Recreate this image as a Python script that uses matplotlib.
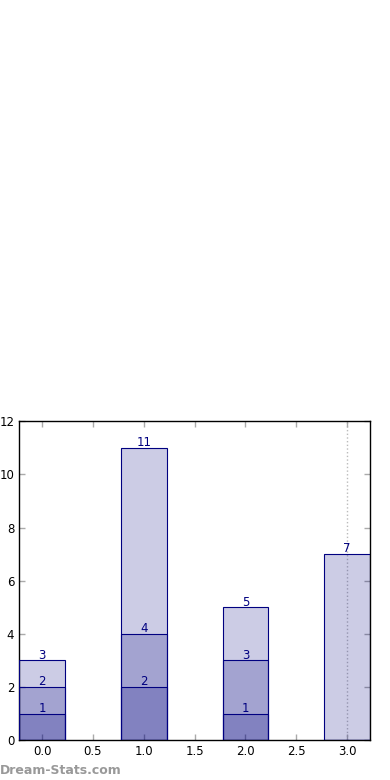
import matplotlib
matplotlib.use("Agg")
import matplotlib.pyplot as plt

positions = [0, 1, 2, 3]
# each layer drawn from zero, overlapping with alpha
layer_top = [3, 11, 5, 7]
layer_mid = [2, 4, 3, 0]
layer_low = [1, 2, 1, 0]

fig = plt.figure(figsize=(3.9, 7.8), dpi=100)
ax = fig.add_axes([0.049, 0.051, 0.9, 0.409])

for layer in (layer_top, layer_mid, layer_low):
    ax.bar(positions, layer, width=0.45, color="navy", alpha=0.2,
           edgecolor="none", zorder=2)
    ax.bar(positions, layer, width=0.45, fill=False, edgecolor="navy",
           linewidth=0.8, zorder=3)
    for x, v in zip(positions, layer):
        if v > 0:
            ax.text(x, v - 0.05, str(v), ha="center", va="bottom", color="navy",
                    fontsize=8.5, zorder=4)

ax.axvline(3, color="#bbbbbb", linestyle=":", linewidth=1, zorder=1)

ax.set_xlim(-0.225, 3.225)
ax.set_ylim(0, 12)
ax.set_xticks([0, 0.5, 1, 1.5, 2, 2.5, 3])
ax.set_xticklabels(["0.0", "0.5", "1.0", "1.5", "2.0", "2.5", "3.0"])
ax.set_yticks([0, 2, 4, 6, 8, 10, 12])
ax.tick_params(direction="in", length=4, color="#aaaaaa", labelsize=8.5,
               top=True, right=True, width=1)
for s in ax.spines.values():
    s.set_linewidth(1)

fig.text(0.0, 0.004, "Dream-Stats.com", color="#999999", fontsize=9,
         fontweight="bold", ha="left", va="bottom")

fig.savefig("out.png", dpi=100)
